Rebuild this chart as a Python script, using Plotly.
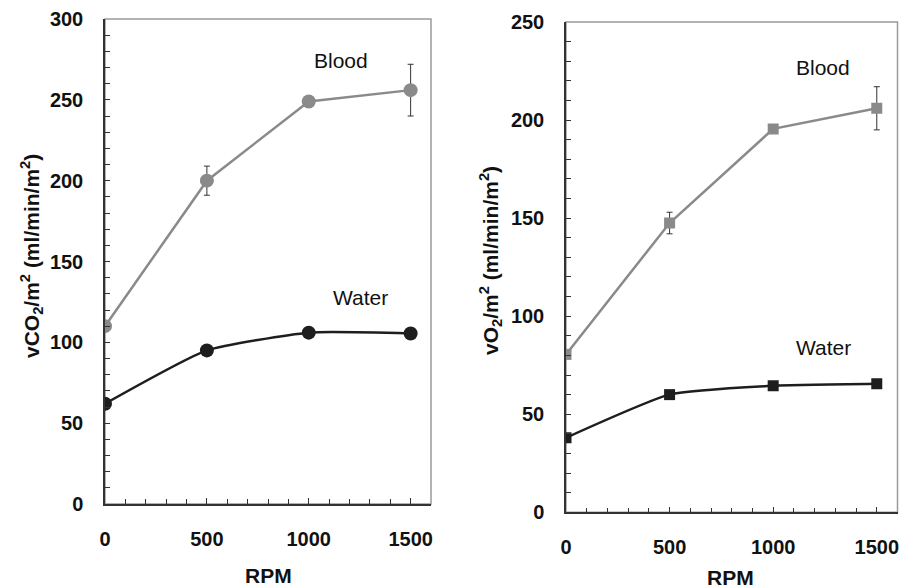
import plotly.graph_objects as go

rpm = [0, 500, 1000, 1500]

# Left panel: vCO2
co2_blood = [110, 200, 249, 256]
co2_blood_err = [0, 9, 0, 16]
co2_water = [62, 95, 106, 105.5]

# Right panel: vO2
o2_blood = [80.5, 147.5, 195.5, 206]
o2_blood_err = [0, 5.5, 0, 11]
o2_water = [38, 60, 64.5, 65.5]

x_ticks = [0, 500, 1000, 1500]
co2_ticks = [0, 50, 100, 150, 200, 250, 300]
o2_ticks = [0, 50, 100, 150, 200, 250]

FONT = "Liberation Sans, Arial, sans-serif"
GREY = "#8a8a8a"
DARK = "#1e1e1e"
W, H = 901, 588


def px(xp):
    return xp / W


def py(yp):
    return 1 - yp / H


fig = go.Figure()

fig.add_trace(go.Scatter(x=rpm, y=co2_blood, mode="lines+markers",
                         line=dict(color=GREY, width=2.5),
                         marker=dict(symbol="circle", size=14, color=GREY),
                         error_y=dict(type="data", array=co2_blood_err, color="#333333",
                                      thickness=1, width=3),
                         xaxis="x", yaxis="y", showlegend=False))
fig.add_trace(go.Scatter(x=rpm, y=co2_water, mode="lines+markers",
                         line=dict(color=DARK, width=2.5, shape="spline", smoothing=0.5),
                         marker=dict(symbol="circle", size=14, color=DARK),
                         xaxis="x", yaxis="y", showlegend=False))
fig.add_trace(go.Scatter(x=rpm, y=o2_blood, mode="lines+markers",
                         line=dict(color=GREY, width=2.5),
                         marker=dict(symbol="square", size=11, color=GREY),
                         error_y=dict(type="data", array=o2_blood_err, color="#333333",
                                      thickness=1, width=3),
                         xaxis="x2", yaxis="y2", showlegend=False))
fig.add_trace(go.Scatter(x=rpm, y=o2_water, mode="lines+markers",
                         line=dict(color=DARK, width=2.5, shape="spline", smoothing=0.5),
                         marker=dict(symbol="square", size=11, color=DARK),
                         xaxis="x2", yaxis="y2", showlegend=False))

tickfont = dict(family=FONT, size=20, color="#111111", weight="bold")


def xaxis(domain, anchor):
    return dict(domain=domain, anchor=anchor, range=[0, 1600], automargin=False,
                tickvals=x_ticks, ticks="inside", ticklen=6, tickwidth=1,
                tickcolor="#333333", showline=True, linecolor="#333333", linewidth=1.5,
                showgrid=False, zeroline=False, tickfont=tickfont,
                ticklabelstandoff=16,
                minor=dict(ticks="inside", dtick=100, ticklen=5, tickcolor="#333333",
                           showgrid=False))


def yaxis(domain, anchor, rng, vals):
    return dict(domain=domain, anchor=anchor, range=rng, automargin=False,
                tickvals=vals, ticks="inside", ticklen=5, tickwidth=1,
                tickcolor="#333333", showline=True, linecolor="#333333", linewidth=1.5,
                showgrid=False, zeroline=False, tickfont=tickfont,
                ticklabelstandoff=16,
                minor=dict(ticks="inside", dtick=10, ticklen=5, tickcolor="#333333",
                           showgrid=False))


fig.update_layout(
    width=W, height=H,
    margin=dict(l=0, r=0, t=0, b=0, autoexpand=False),
    paper_bgcolor="white", plot_bgcolor="white",
    font=dict(family=FONT, color="#111111"),
    xaxis=xaxis([px(105), px(431)], "y"),
    yaxis=yaxis([py(504), py(19)], "x", [0, 300], co2_ticks),
    xaxis2=xaxis([px(566), px(897.5)], "y2"),
    yaxis2=yaxis([py(512.3), py(22)], "x2", [0, 250], o2_ticks),
)

for xr, yr in (("x domain", "y domain"), ("x2 domain", "y2 domain")):
    fig.add_shape(type="rect", xref=xr, yref=yr, x0=0, x1=1, y0=0, y1=1,
                  line=dict(color="#9a9a9a", width=1.5), layer="below")

labfont = dict(family=FONT, size=21, color="#111111")
fig.add_annotation(x=1157, y=274.6, xref="x", yref="y", text="Blood", showarrow=False, font=labfont)
fig.add_annotation(x=1255, y=128, xref="x", yref="y", text="Water", showarrow=False, font=labfont)
fig.add_annotation(x=1241, y=226.6, xref="x2", yref="y2", text="Blood", showarrow=False, font=labfont)
fig.add_annotation(x=1241, y=83.8, xref="x2", yref="y2", text="Water", showarrow=False, font=labfont)

titlefont = dict(family=FONT, size=21, color="#111111", weight="bold")
fig.add_annotation(x=px(31), y=py(256), xref="paper", yref="paper", textangle=-90,
                   xanchor="center", yanchor="middle",
                   text="vCO<sub>2</sub>/m<sup>2</sup> (ml/min/m<sup>2</sup>)",
                   showarrow=False, font=titlefont)
fig.add_annotation(x=px(490), y=py(260), xref="paper", yref="paper", textangle=-90,
                   xanchor="center", yanchor="middle",
                   text="vO<sub>2</sub>/m<sup>2</sup> (ml/min/m<sup>2</sup>)",
                   showarrow=False, font=titlefont)
fig.add_annotation(x=px(268), y=py(575), xref="paper", yref="paper",
                   xanchor="center", yanchor="middle",
                   text="RPM", showarrow=False, font=titlefont)
fig.add_annotation(x=px(730), y=py(577), xref="paper", yref="paper",
                   xanchor="center", yanchor="middle",
                   text="RPM", showarrow=False, font=titlefont)

fig.write_html("out.html", config={"displayModeBar": False},
               post_script="document.body.style.margin='0';")
